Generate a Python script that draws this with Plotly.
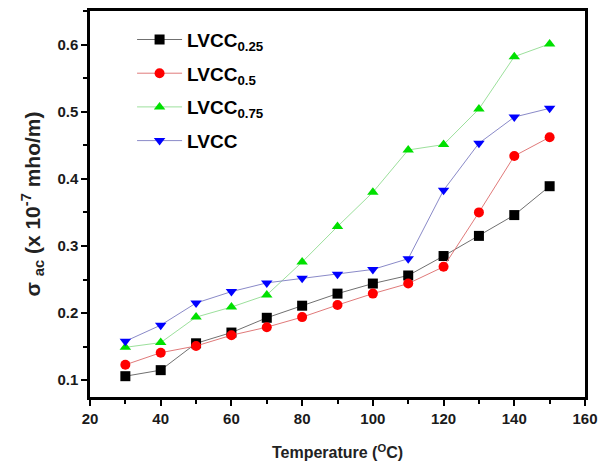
import plotly.graph_objects as go

temperature = [30, 40, 50, 60, 70, 80, 90, 100, 110, 120, 130, 140, 150]
lvcc_025 = [0.106, 0.115, 0.155, 0.171, 0.193, 0.211, 0.229, 0.244, 0.256, 0.285, 0.315, 0.346, 0.389]
lvcc_05 = [0.123, 0.141, 0.151, 0.167, 0.179, 0.194, 0.212, 0.229, 0.244, 0.269, 0.350, 0.434, 0.462]
lvcc_075 = [0.149, 0.156, 0.194, 0.209, 0.227, 0.276, 0.329, 0.380, 0.443, 0.451, 0.504, 0.582, 0.601]
lvcc = [0.158, 0.182, 0.215, 0.232, 0.245, 0.252, 0.258, 0.265, 0.281, 0.383, 0.453, 0.492, 0.505]

x_tick_vals = [20, 40, 60, 80, 100, 120, 140, 160]
x_tick_labels = ["20", "40", "60", "80", "100", "120", "140", "160"]
y_tick_vals = [0.1, 0.2, 0.3, 0.4, 0.5, 0.6]
y_tick_labels = ["0.1", "0.2", "0.3", "0.4", "0.5", "0.6"]

series_names = ["LVCC<sub>0.25</sub>", "LVCC<sub>0.5</sub>", "LVCC<sub>0.75</sub>", "LVCC"]
series_values = [lvcc_025, lvcc_05, lvcc_075, lvcc]
marker_colors = ["#000000", "#ff0000", "#00e000", "#0000ff"]
line_colors = ["#707070", "#e07a7a", "#9ce09c", "#8a8ac8"]
symbols = ["square", "circle", "triangle-up", "triangle-down"]

fig = go.Figure()
for i, (name, vals, mc, lc, sym) in enumerate(zip(series_names, series_values, marker_colors, line_colors, symbols)):
    fig.add_trace(go.Scatter(
        x=temperature, y=vals, name=name, mode="lines+markers",
        legendgroup=f"g{i}",
        line=dict(color=lc, width=1),
        marker=dict(symbol=sym, size=10, color=mc, line=dict(width=0)),
    ))

axis_common = dict(
    showline=True, linecolor="black", linewidth=2.5, mirror=True,
    ticks="outside", ticklen=6, tickwidth=2, tickcolor="black",
    showgrid=False, zeroline=False,
    tickfont=dict(family="Liberation Sans", size=15, color="#1a1a1a", weight="bold"),
)

fig.update_layout(
    width=606, height=468,
    margin=dict(l=90, r=16, t=8, b=68),
    paper_bgcolor="white", plot_bgcolor="white",
    font=dict(family="Liberation Sans", color="black"),
    xaxis=dict(
        range=[20, 160], tickmode="array", tickvals=x_tick_vals,
        ticktext=[f"<b>{t}</b>" for t in x_tick_labels],
        minor=dict(dtick=10, tick0=20, ticks="outside", ticklen=4, tickwidth=2, tickcolor="black"),
        title=dict(text="<b>Temperature (<sup>O</sup>C)</b>", standoff=22,
                   font=dict(family="Liberation Sans", size=16, color="#222")),
        **axis_common,
    ),
    yaxis=dict(
        range=[0.075, 0.65], tickmode="array", tickvals=y_tick_vals,
        ticktext=[f"<b>{t}</b>" for t in y_tick_labels],
        minor=dict(dtick=0.05, tick0=0.1, ticks="outside", ticklen=4, tickwidth=2, tickcolor="black"),
        title=dict(text="<b>σ <sub>ac</sub> (x 10<sup>-7</sup> mho/m)</b>", standoff=12,
                   font=dict(family="Liberation Sans", size=21, color="#222")),
        **axis_common,
    ),
    legend=dict(
        x=0.085, y=0.975, xanchor="left", yanchor="top",
        bgcolor="rgba(0,0,0,0)", borderwidth=0,
        tracegroupgap=6, itemwidth=45,
        font=dict(family="Liberation Sans", size=19, color="black", weight=700),
    ),
    showlegend=True,
)

fig.write_html("out.html")
